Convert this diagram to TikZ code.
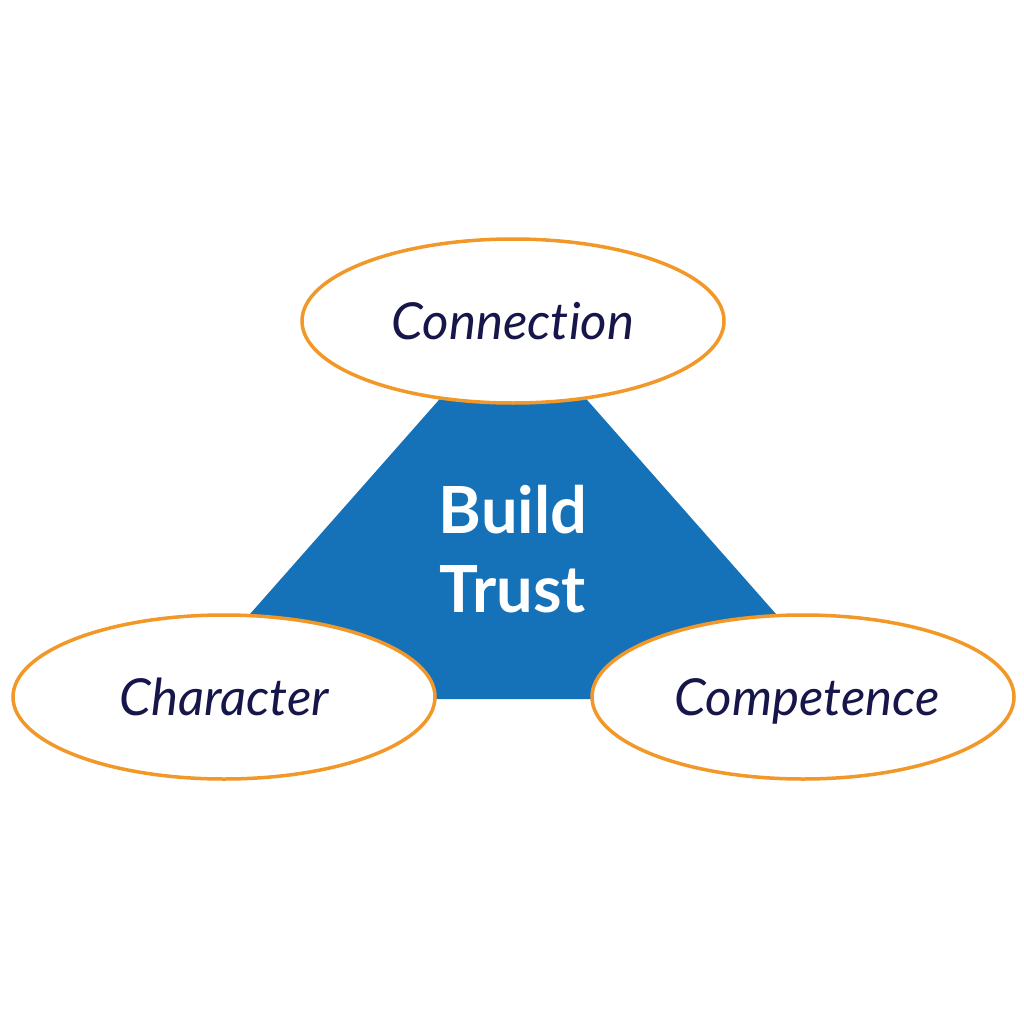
\documentclass[tikz,border=0pt]{standalone}
\usepackage{fontspec}
\setmainfont{Lato}[Ligatures=NoCommon]
\usetikzlibrary{shapes.geometric}
\definecolor{trustblue}{RGB}{22,114,184}
\definecolor{ringorange}{RGB}{242,152,40}
\definecolor{navytext}{RGB}{22,22,74}
\tikzset{
  pillar/.style={ellipse, draw=ringorange, line width=3.5pt, fill=white,
    minimum width=422pt, minimum height=164pt, inner sep=0pt,
    text=navytext, font=\fontsize{51}{60}\selectfont\itshape,
    text height=36pt, text depth=0pt},
  core/.style={text=white, font=\fontsize{65}{80}\selectfont\bfseries,
    align=center, anchor=base, inner sep=0pt}
}
\begin{document}
\begin{tikzpicture}[x=1pt,y=-1pt]
\useasboundingbox (0,0) rectangle (1024,1024);
\fill[white] (0,0) rectangle (1024,1024);
% triangle
\fill[trustblue] (513,316) -- (851,699) -- (175,699) -- cycle;
\node[core] (build) at (513,533) {Build};
\node[core] (trust) at (513,612) {Trust};
\node[pillar] (connection) at (513,321) {Connection};
\node[pillar] (character) at (224,697) {Character};
\node[pillar] (competence) at (803,697) {\hspace*{8pt}Competence};
\end{tikzpicture}
\end{document}
